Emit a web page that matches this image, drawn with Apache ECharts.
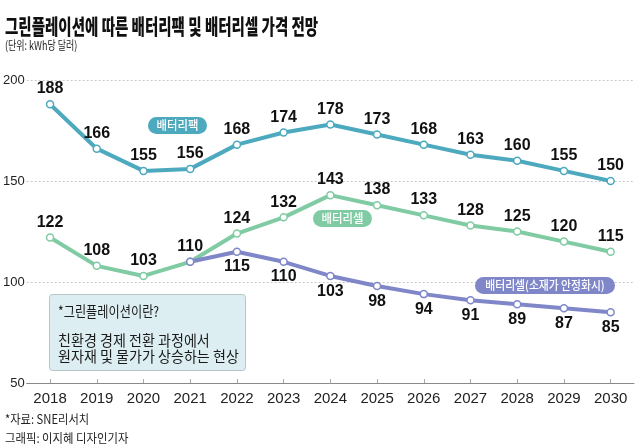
<!DOCTYPE html>
<html>
<head>
<meta charset="utf-8">
<script src="https://cdn.jsdelivr.net/npm/echarts@6/dist/echarts.min.js"></script>
<style>
html,body{margin:0;padding:0;background:#fff;}
#chart{width:640px;height:448px;}
</style>
</head>
<body>
<div id="chart"></div>
<script>
var years = ['2018','2019','2020','2021','2022','2023','2024','2025','2026','2027','2028','2029','2030'];
var packValues = [188,166,155,156,168,174,178,173,168,163,160,155,150];
var cellValues = [122,108,103,110,124,132,143,138,133,128,125,120,115];
var stableCellValues = [null,null,null,110,115,110,103,98,94,91,89,87,85];
var yTicks = [50,100,150,200];

var seriesNames = ['배터리팩','배터리셀','배터리셀(소재가 안정화시)'];
var colors = ['#4DA9BE','#80CBA3','#7F87C8'];

var KR = '"Noto Sans CJK KR", "Noto Sans", sans-serif';
var NUM = '"Liberation Sans Narrow", "Arial Narrow", "Liberation Sans", sans-serif';

var chart = echarts.init(document.getElementById('chart'), null, {renderer:'canvas'});

function lineSeries(name, data, color, labelPos, hideIdx) {
  return {
    name: name,
    type: 'line',
    data: data.map(function(v, i){
      if (hideIdx && hideIdx.indexOf(i) >= 0) return {value: v, label: {show: false}};
      return v;
    }),
    symbol: 'circle',
    symbolSize: 7,
    showAllSymbol: true,
    lineStyle: {color: color, width: 4},
    itemStyle: {color: '#fff', borderColor: color, borderWidth: 1.5},
    label: {
      show: true, position: labelPos, distance: 3,
      fontFamily: NUM, fontSize: 16, fontWeight: 'bold', color: '#111'
    },
    emphasis: {disabled: true},
    connectNulls: false,
    z: 3
  };
}

function txt(x, y, text, size, scale, opts) {
  opts = opts || {};
  return {
    type: 'text', x: x, y: y, scaleX: scale, z: 100,
    style: {
      text: text, fontFamily: KR, fontSize: size, fontWeight: opts.weight || 'normal',
      fill: opts.fill || '#111', textAlign: opts.align || 'left', textVerticalAlign: 'middle'
    }
  };
}
function pill(x, y, w, h, color, text, scale) {
  return [
    {type:'rect', z: 90, shape:{x:x, y:y, width:w, height:h, r:h/2}, style:{fill: color}},
    txt(x + w/2, y + h/2, text, 12, scale, {fill:'#fff', align:'center', weight: 500})
  ];
}

var graphics = [
  txt(5, 26, '그린플레이션에 따른 배터리팩 및 배터리셀 가격 전망', 21, 0.69, {weight:900}),
  txt(5, 45, '(단위: kWh당 달러)', 12, 0.75, {fill:'#222'}),
  {type:'rect', z: 80, shape:{x:49.5, y:294.5, width:196, height:76, r:3}, style:{fill:'#DCEEF1', stroke:'#B7C4C8', lineWidth:1}},
  txt(58, 311, '*그린플레이션이란?', 14.5, 0.84, {fill:'#1a1a1a'}),
  txt(58, 340, '친환경 경제 전환 과정에서', 14.5, 0.97, {fill:'#1a1a1a'}),
  txt(58, 356, '원자재 및 물가가 상승하는 현상', 14.5, 0.97, {fill:'#1a1a1a'}),
  txt(5, 419, '*자료: SNE리서치', 12.5, 0.9, {fill:'#222'}),
  txt(5, 438, '그래픽: 이지혜 디자인기자', 12.5, 0.91, {fill:'#222'})
].concat(
  pill(148, 117, 59, 17, colors[0], seriesNames[0], 0.95),
  pill(313, 210, 59, 17, colors[1], seriesNames[1], 0.95),
  pill(475, 277, 140, 17, colors[2], seriesNames[2], 0.9)
);

var option = {
  animation: false,
  backgroundColor: '#fff',
  grid: {left: 26, right: 6, top: 80, bottom: 65},
  xAxis: {
    type: 'category', data: years, boundaryGap: true,
    axisLine: {lineStyle: {color: '#8a8a8a', width: 1}},
    axisTick: {show: true, inside: true, length: 4, alignWithLabel: true, lineStyle: {color: '#aaa'}},
    axisLabel: {fontFamily: NUM, fontSize: 15, color: '#222', margin: 8}
  },
  yAxis: {
    type: 'value', min: yTicks[0], max: yTicks[yTicks.length-1], interval: 50,
    axisLine: {show: false}, axisTick: {show: false},
    axisLabel: {fontFamily: NUM, fontSize: 13, color: '#222', margin: 2},
    splitLine: {lineStyle: {color: '#c8c8c8', type: [2, 2], width: 1}}
  },
  series: [
    lineSeries(seriesNames[0], packValues, colors[0], 'top'),
    lineSeries(seriesNames[1], cellValues, colors[1], 'top'),
    lineSeries(seriesNames[2], stableCellValues, colors[2], 'bottom', [3])
  ],
  graphic: graphics
};
chart.setOption(option);
</script>
</body>
</html>
